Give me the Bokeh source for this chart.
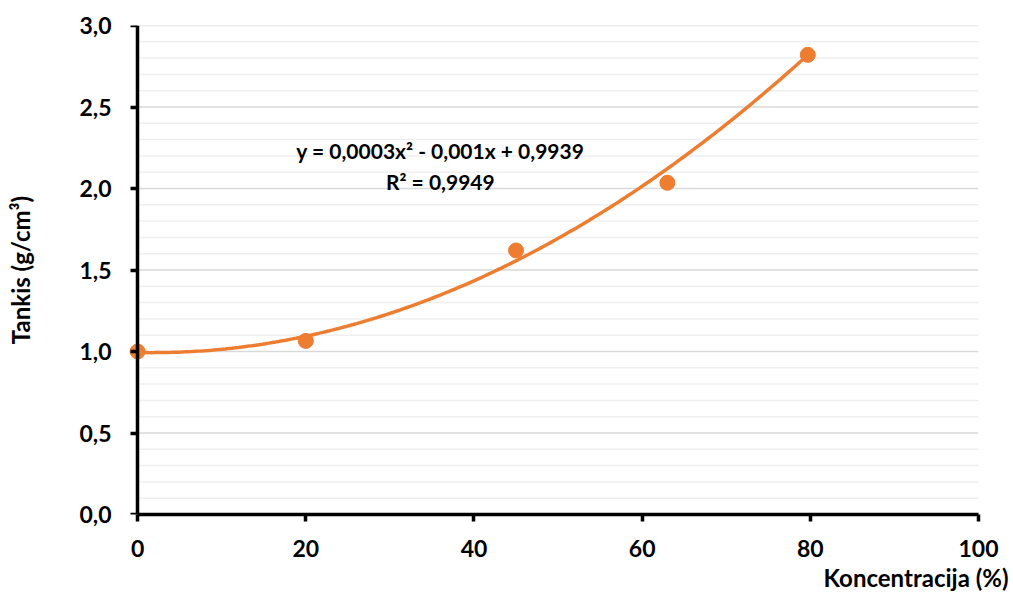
import numpy as np
from bokeh.plotting import figure
from bokeh.models import Range1d, FixedTicker, Label, Title, LinearAxis
from bokeh.embed import file_html
from bokeh.resources import INLINE

# Measured density versus concentration
concentration = [0, 20, 45, 63, 79.7]
density = [1.00, 1.065, 1.62, 2.035, 2.82]

# Quadratic trend line coefficients (as stated on the chart)
coef_a, coef_b, coef_c = 0.0003, -0.001, 0.9939
r_squared = "0,9949"

x_ticks = [0, 20, 40, 60, 80, 100]
y_major = [0.0, 0.5, 1.0, 1.5, 2.0, 2.5, 3.0]
y_labels = ["0,0", "0,5", "1,0", "1,5", "2,0", "2,5", "3,0"]
y_minor = [0.1, 0.2, 0.3, 0.4, 0.6, 0.7, 0.8, 0.9, 1.1, 1.2, 1.3, 1.4,
           1.6, 1.7, 1.8, 1.9, 2.1, 2.2, 2.3, 2.4, 2.6, 2.7, 2.8, 2.9]

ORANGE = "#ED7D31"
FONT = "Lato"

p = figure(width=1013, height=592, output_backend="svg", toolbar_location=None,
           x_range=Range1d(-1.8, 100), y_range=Range1d(0, 3.0),
           min_border_left=122, min_border_right=35, min_border_top=25,
           min_border_bottom=78)
p.outline_line_color = None
p.xgrid.visible = False
p.ygrid.visible = False

# horizontal gridlines spanning the 0..100 axis extent
x_lo, x_hi = x_ticks[0], x_ticks[-1]
p.segment(x0=[x_lo] * len(y_minor), x1=[x_hi] * len(y_minor), y0=y_minor, y1=y_minor,
          line_color="#efefef", line_width=1.5)
p.segment(x0=[x_lo] * len(y_major), x1=[x_hi] * len(y_major), y0=y_major, y1=y_major,
          line_color="#d9d9d9", line_width=1.5)

# trend line over the measured span
xs = np.linspace(concentration[0], concentration[-1], 200)
ys = coef_a * xs ** 2 + coef_b * xs + coef_c
p.line(xs, ys, line_color=ORANGE, line_width=3.5)

p.scatter(concentration, density, size=15, fill_color=ORANGE, line_color=ORANGE)


def style_line(ax):
    ax.axis_line_width = 3.5
    ax.axis_line_color = "black"
    ax.major_tick_line_width = 3.5
    ax.major_tick_line_color = "black"
    ax.major_tick_out = 7
    ax.major_tick_in = 0
    ax.minor_tick_line_color = None


def style_labels(ax):
    ax.major_label_text_font = FONT
    ax.major_label_text_font_style = "bold"
    ax.major_label_text_font_size = "23px"
    ax.major_label_text_color = "black"


# x axis
xa = p.xaxis[0]
xa.ticker = FixedTicker(ticks=x_ticks)
xa.bounds = (x_lo, x_hi)
style_line(xa)
style_labels(xa)
xa.major_label_standoff = 18

# y axis carrying the tick labels (line hidden)
ya = p.yaxis[0]
ya.ticker = FixedTicker(ticks=y_major)
ya.major_label_overrides = dict(zip(y_major, y_labels))
style_labels(ya)
ya.axis_line_color = None
ya.major_tick_line_color = None
ya.minor_tick_line_color = None
ya.major_tick_out = 0
ya.major_tick_in = 0
ya.major_label_standoff = 11

# y axis line and ticks pinned at x = 0 (no labels)
y_line = LinearAxis(ticker=FixedTicker(ticks=y_major), fixed_location=x_lo,
                    major_label_text_color=None, major_label_text_font_size="1px",
                    major_label_standoff=0)
style_line(y_line)
p.add_layout(y_line, "left")

# y title on a tick-less outer axis
y_title = LinearAxis(ticker=FixedTicker(ticks=[]),
                     axis_line_color=None, major_tick_line_color=None,
                     minor_tick_line_color=None,
                     axis_label="Tankis (g/cm³)", axis_label_text_font=FONT,
                     axis_label_text_font_style="bold", axis_label_text_font_size="24px",
                     axis_label_text_color="black", axis_label_standoff=42)
p.add_layout(y_title, "left")

xtitle = Title(text="Koncentracija (%)", align="right", text_font=FONT,
               text_font_style="bold", text_font_size="24px", text_color="black",
               offset=-30, standoff=2)
p.add_layout(xtitle, "below")

eq_font = dict(text_font=FONT, text_font_style="bold", text_font_size="21px",
               text_color="black", text_align="center", text_baseline="middle")
p.add_layout(Label(x=36.0, y=2.233,
                   text=f"y = {coef_a:.4f}x² - {abs(coef_b):.3f}x + {coef_c:.4f}".replace(".", ","),
                   **eq_font))
p.add_layout(Label(x=36.0, y=2.043, text=f"R² = {r_squared}", **eq_font))

open("out.html", "w").write(file_html(p, INLINE))
